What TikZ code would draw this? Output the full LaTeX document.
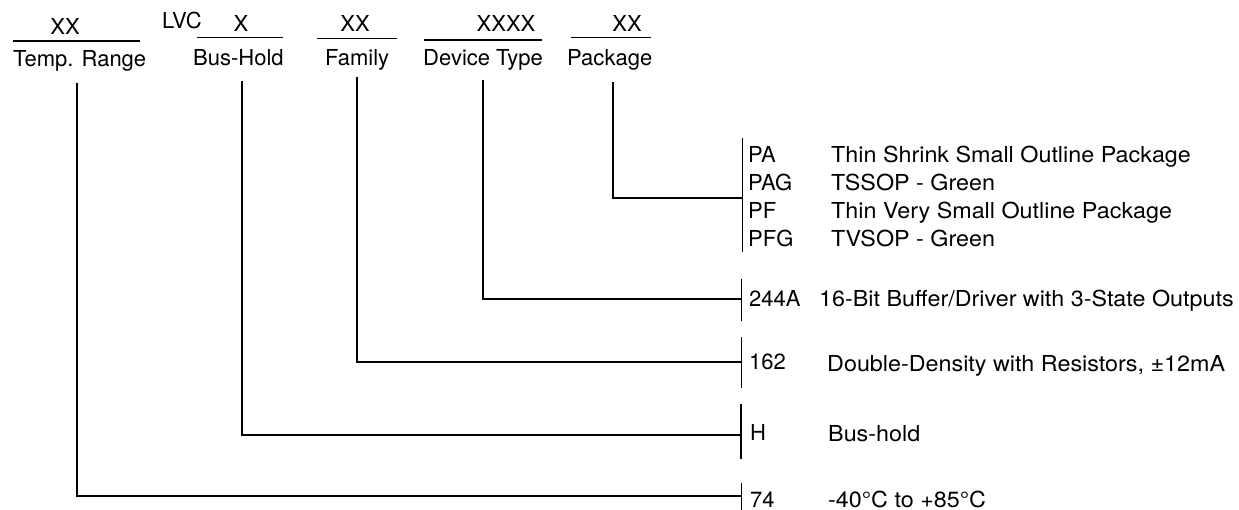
\documentclass[tikz,border=0pt]{standalone}
\usepackage{fontspec}
\usepackage{graphicx}
\setmainfont{TeX Gyre Heros}
\newcommand{\widetxt}[1]{\scalebox{1.06}[1]{#1}}
\begin{document}
\begin{tikzpicture}[x=1pt,y=-1pt,
  lbl/.style={inner sep=0pt,anchor=base west,font=\fontsize{22}{22}\selectfont},
  clbl/.style={inner sep=0pt,anchor=base,font=\fontsize{22}{22}\selectfont},
  rule/.style={line width=1pt},
  thickrule/.style={line width=1.8pt},
  conn/.style={line width=1.3pt},
  heavyconn/.style={line width=1.7pt},
  brk/.style={line width=1pt}]
\useasboundingbox (0,0) rectangle (1239,510);
% header fields
\node[clbl] (xxT) at (65,35) {XX};
\draw[thickrule] (13,41) -- (140,41);
\node[lbl] (temp) at (13,67) {Temp. Range};
\node[lbl] (lvc) at (162,29) {LVC};
\node[clbl] (xB) at (241,32) {X};
\draw[rule] (197,38) -- (283,38);
\node[lbl] (bus) at (193,66) {Bus-Hold};
\node[clbl] (xxF) at (355,32) {XX};
\draw[rule] (317,39) -- (397,39);
\node[lbl] (fam) at (325,66) {Family};
\node[clbl] (xxD) at (506,32) {XXXX};
\draw[thickrule] (424,40) -- (542,40);
\node[lbl] (dev) at (423,66) {Device Type};
\node[clbl] (xxP) at (627,32) {XX};
\draw[rule] (571,38) -- (651,38);
\node[lbl] (pkg) at (567,66) {Package};
% connector start points
\coordinate (tTop) at (77,83);
\coordinate (bTop) at (242,81);
\coordinate (fTop) at (357,77);
\coordinate (dTop) at (483,80);
\coordinate (pTop) at (613,82);
% bracket points
\coordinate (pBr) at (742,198);
\coordinate (dBr) at (741,299);
\coordinate (fBr) at (741,362);
\coordinate (bBr) at (741,435);
\coordinate (tBr) at (741,496);
\draw[conn] (pTop) |- (pBr);
\draw[conn] (dTop) |- (dBr);
\draw[heavyconn] (fTop) |- (fBr);
\draw[conn] (bTop) |- (bBr);
\draw[heavyconn] (tTop) |- (tBr);
% brackets
\draw[brk] (742,138) -- (742,252);
\draw[brk] (741,279) -- (741,321);
\draw[brk] (741,337) -- (741,388);
\draw[line width=1.8pt] (741,404) -- (741,459);
\draw[brk] (741,483) -- (741,510);
% package codes
\node[lbl] (cPA) at (748,163) {PA};
\node[lbl] (cPAG) at (748,191) {PAG};
\node[lbl] (cPF) at (748,219) {PF};
\node[lbl] (cPFG) at (748,247) {PFG};
\node[lbl] (dPA) at (831,163) {\widetxt{Thin Shrink Small Outline Package}};
\node[lbl] (dPAG) at (831,191) {\widetxt{TSSOP - Green}};
\node[lbl] (dPF) at (831,219) {\widetxt{Thin Very Small Outline Package}};
\node[lbl] (dPFG) at (831,247) {\widetxt{TVSOP - Green}};
% other rows
\node[lbl] (c244) at (749,307) {244A};
\node[lbl] (d244) at (819,307) {\widetxt{16-Bit Buffer/Driver with 3-State Outputs}};
\node[lbl] (c162) at (749,370) {162};
\node[lbl] (d162) at (827,371) {\widetxt{Double-Density with Resistors, ±12mA}};
\node[lbl] (cH) at (750,440) {H};
\node[lbl] (dH) at (828,441) {\widetxt{Bus-hold}};
\node[lbl] (c74) at (750,507) {74};
\node[lbl] (d74) at (828,507) {\widetxt{-40°C to +85°C}};
\end{tikzpicture}
\end{document}
